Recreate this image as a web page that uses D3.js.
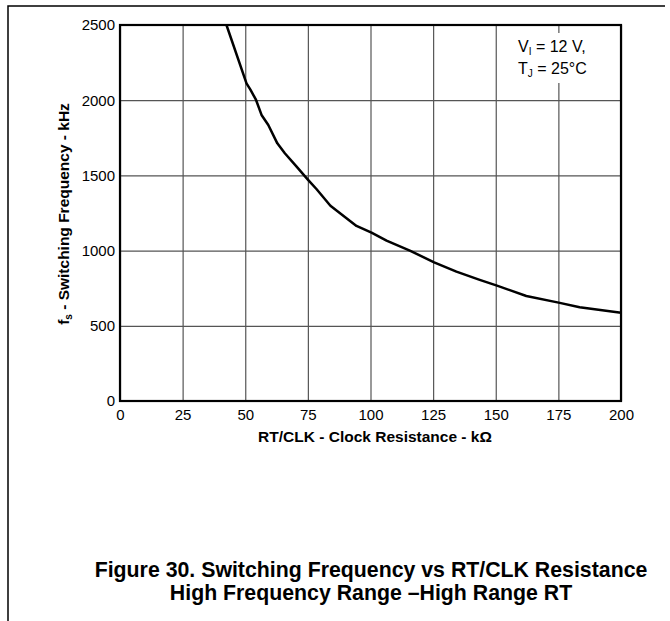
<!DOCTYPE html>
<html><head><meta charset="utf-8">
<script src="https://cdn.jsdelivr.net/npm/d3@7"></script>
<style>body{margin:0;background:#fff}svg{display:block}text{font-family:"Liberation Sans",Arial,sans-serif;fill:#000}</style>
</head><body><svg id="c" width="670" height="621"></svg>
<script>
const resistance = [42.5, 50.5, 52, 54.2, 56.5, 59.2, 62.8, 65.8, 70.5, 74.9, 78.5, 84, 94.4, 100.4, 106.4, 115.7, 125.4, 134.3, 143.6, 150.5, 162.2, 175.1, 183.5, 200];
const frequency = [2500, 2112, 2072, 2006, 1902, 1835, 1713, 1647, 1558, 1474, 1408, 1298, 1164, 1119, 1066, 1000, 922, 860, 805, 767, 698, 654, 623, 587];
const xTicks = [0, 25, 50, 75, 100, 125, 150, 175, 200];
const yTicks = [0, 500, 1000, 1500, 2000, 2500];

const svg = d3.select("#c");
const L = 120, R = 621, T = 25, B = 401;
const x = d3.scaleLinear().domain([0, 200]).range([L, R]);
const y = d3.scaleLinear().domain([0, 2500]).range([B, T]);

// page frame (top and left)
svg.append("path").attr("d", "M8,621 L8,6 L665,6").attr("fill", "none").attr("stroke", "#000").attr("stroke-width", 1.5);

// grid
const gx = svg.append("g").attr("transform", `translate(0,${B})`)
  .call(d3.axisBottom(x).tickValues(xTicks).tickSize(-(B - T)).tickFormat(d3.format("d")).tickPadding(8));
const gy = svg.append("g").attr("transform", `translate(${L},0)`)
  .call(d3.axisLeft(y).tickValues(yTicks).tickSize(-(R - L)).tickFormat(d3.format("d")).tickPadding(5));
[gx, gy].forEach(g => {
  g.select(".domain").remove();
  g.selectAll(".tick line").attr("stroke", "#555").attr("stroke-width", 1.2);
  g.selectAll(".tick text").attr("font-size", 15).attr("font-family", "Liberation Sans, Arial, sans-serif").attr("fill", "#000");
});

// annotation background
svg.append("rect").attr("x", 512).attr("y", 33).attr("width", 84).attr("height", 50).attr("fill", "#fff");

// border
svg.append("rect").attr("x", L).attr("y", T).attr("width", R - L).attr("height", B - T)
  .attr("fill", "none").attr("stroke", "#000").attr("stroke-width", 2.2);

// curve
const line = d3.line().x((d, i) => x(resistance[i])).y(d => y(d)).curve(d3.curveLinear);
svg.append("path").datum(frequency).attr("d", line).attr("fill", "none")
  .attr("stroke", "#000").attr("stroke-width", 2.5).attr("stroke-linejoin", "round");

// annotation
const a1 = svg.append("text").attr("x", 518).attr("y", 52).attr("font-size", 16);
a1.append("tspan").text("V");
a1.append("tspan").attr("font-size", 10).attr("dy", 3).text("I");
a1.append("tspan").attr("dy", -3).text(" = 12 V,");
const a2 = svg.append("text").attr("x", 518).attr("y", 74).attr("font-size", 16);
a2.append("tspan").text("T");
a2.append("tspan").attr("font-size", 10).attr("dy", 3).text("J");
a2.append("tspan").attr("dy", -3).text(" = 25°C");

// axis titles
svg.append("text").attr("x", 375).attr("y", 442).attr("text-anchor", "middle")
  .attr("font-size", 15.5).attr("font-weight", "bold").text("RT/CLK - Clock Resistance - kΩ");
const yt = svg.append("text").attr("transform", "translate(69,214) rotate(-90)").attr("text-anchor", "middle")
  .attr("font-size", 15.5).attr("font-weight", "bold");
yt.append("tspan").text("f");
yt.append("tspan").attr("font-size", 10).attr("dy", 3).text("s");
yt.append("tspan").attr("dy", -3).text(" - Switching Frequency - kHz");

// figure title
svg.append("text").attr("x", 371).attr("y", 577).attr("text-anchor", "middle")
  .attr("font-size", 21.3).attr("font-weight", "bold").text("Figure 30. Switching Frequency vs RT/CLK Resistance");
svg.append("text").attr("x", 371).attr("y", 600).attr("text-anchor", "middle")
  .attr("font-size", 21.3).attr("font-weight", "bold").text("High Frequency Range –High Range RT");
</script></body></html>
